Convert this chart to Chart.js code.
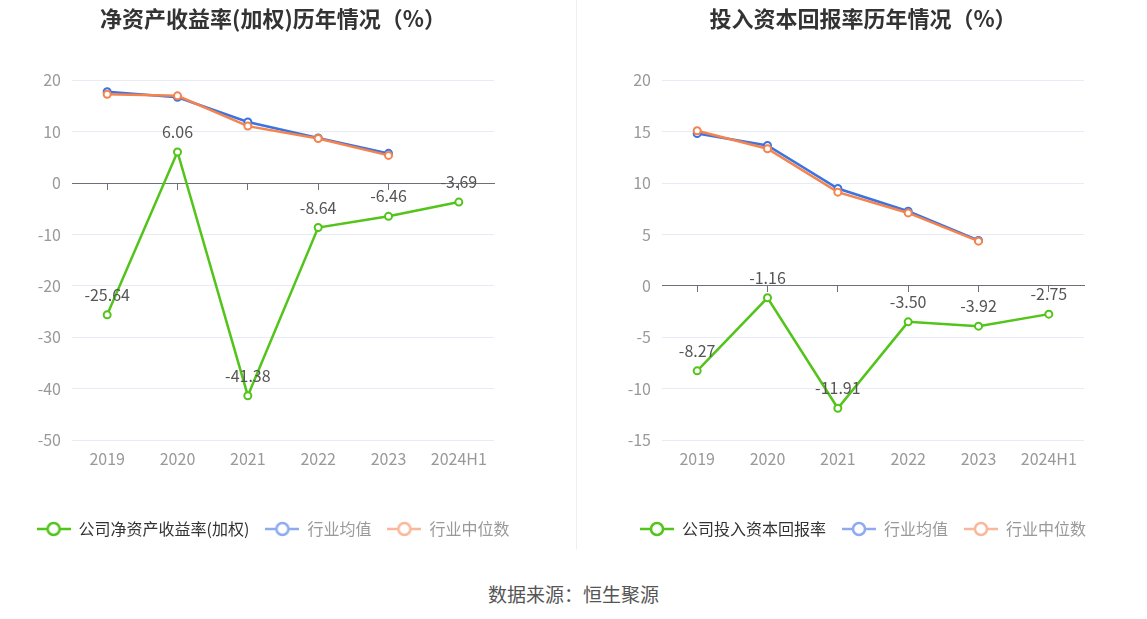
<!DOCTYPE html>
<html lang="zh">
<head>
<meta charset="UTF-8" />
<title>净资产收益率 / 投入资本回报率</title>
<script src="https://cdn.jsdelivr.net/npm/chart.js"></script>
<style>
  html, body { margin: 0; padding: 0; background: #fff; }
  body { width: 1147px; height: 619px; position: relative; overflow: hidden; font-family: "Noto Sans CJK SC", sans-serif; }
  .box { position: absolute; top: 0; width: 546px; height: 560px; }
  .divider { position: absolute; left: 576px; top: 0; width: 1px; height: 549px; background: #eeeeee; }
  .source { position: absolute; left: 0; width: 1147px; top: 580px; text-align: center; font-size: 19px; color: #555; }
</style>
</head>
<body>
<div class="box" style="left:0"><canvas id="roeChart"></canvas></div>
<div class="divider"></div>
<div class="box" style="left:590px"><canvas id="roicChart"></canvas></div>
<div class="source">数据来源：恒生聚源</div>

<script>
  // 数据
  const years = ['2019', '2020', '2021', '2022', '2023', '2024H1'];

  const roeCompany = [-25.64, 6.06, -41.38, -8.64, -6.46, -3.69];
  const roeMean    = [17.8, 16.7, 11.9, 8.8, 5.8, null];
  const roeMedian  = [17.3, 17.0, 11.1, 8.7, 5.4, null];

  const roicCompany = [-8.27, -1.16, -11.91, -3.50, -3.92, -2.75];
  const roicMean    = [14.83, 13.67, 9.48, 7.27, 4.42, null];
  const roicMedian  = [15.1, 13.35, 9.12, 7.1, 4.35, null];

  const FONT = '"Noto Sans CJK SC", "Noto Sans", sans-serif';
  const GREEN = '#52C41A', BLUE = '#3B73E3', ORANGE = '#F5834D';

  // 图例图标：线 + 空心圆
  function legendIcon(color) {
    const c = document.createElement('canvas');
    c.width = 34; c.height = 16;
    const g = c.getContext('2d');
    g.strokeStyle = color;
    g.lineWidth = 2.5;
    g.beginPath(); g.moveTo(0, 8); g.lineTo(34, 8); g.stroke();
    g.fillStyle = '#fff';
    g.beginPath(); g.arc(17, 8, 6, 0, Math.PI * 2); g.fill(); g.stroke();
    return c;
  }

  // 绿色折线数值标签
  const valueLabels = {
    id: 'valueLabels',
    afterDatasetsDraw(chart) {
      const meta = chart.getDatasetMeta(0);
      const data = chart.data.datasets[0].data;
      const ctx = chart.ctx;
      ctx.save();
      ctx.font = '16px ' + FONT;
      ctx.fillStyle = '#555';
      ctx.textAlign = 'center';
      ctx.textBaseline = 'middle';
      meta.data.forEach((pt, i) => {
        ctx.fillText(data[i].toFixed(2), pt.x, pt.y - 20);
      });
      ctx.restore();
    }
  };

  function makeChart(id, title, name, company, mean, median, yMin, yMax, step) {
    const ds = (label, data, color, order) => ({
      label, data, order,
      borderColor: color,
      backgroundColor: color,
      borderWidth: 2.5,
      pointRadius: 3.5,
      pointBorderWidth: 2,
      pointBackgroundColor: '#fff',
      pointBorderColor: color,
      tension: 0
    });
    const legendItems = [
      { text: name, icon: legendIcon(GREEN), fontColor: '#333' },
      { text: '行业均值', icon: legendIcon('#8EABF0'), fontColor: '#999' },
      { text: '行业中位数', icon: legendIcon('#F9B89B'), fontColor: '#999' }
    ];
    return new Chart(document.getElementById(id), {
      type: 'line',
      data: {
        labels: years,
        datasets: [
          ds(name, company, GREEN, 0),
          ds('行业均值', mean, BLUE, 2),
          ds('行业中位数', median, ORANGE, 1)
        ]
      },
      options: {
        responsive: true,
        maintainAspectRatio: false,
        animation: false,
        layout: { padding: { left: 0, right: 0, top: 0, bottom: 13 } },
        scales: {
          x: {
            type: 'category',
            offset: true,
            grid: { display: false, drawTicks: false },
            border: { display: false },
            ticks: { color: '#999', padding: 9, font: { family: FONT, size: 16 } },
            afterFit: s => { s.height = 65; }
          },
          x2: {
            type: 'category',
            labels: years,
            offset: true,
            position: { y: 0 },
            grid: { display: true, drawOnChartArea: false, drawTicks: true, tickLength: 6, color: '#6E7079', offset: false },
            border: { display: true, color: '#6E7079', width: 1 },
            ticks: { display: false }
          },
          y: {
            min: yMin, max: yMax,
            ticks: { stepSize: step, color: '#999', padding: 11, font: { family: FONT, size: 16 } },
            grid: {
              drawTicks: false,
              color: c => c.tick && c.tick.value === 0 ? 'rgba(0,0,0,0)' : '#E6EBF5'
            },
            border: { display: false },
            afterFit: s => { s.width = 72; }
          },
          // 右侧留白
          yPad: {
            position: 'right',
            grid: { display: false, drawTicks: false },
            border: { display: false },
            ticks: { display: false },
            afterFit: s => { s.width = 52; }
          }
        },
        plugins: {
          title: {
            display: true,
            text: title,
            color: '#333',
            font: { family: FONT, size: 22, weight: 'bold' },
            padding: { top: 5, bottom: 49 }
          },
          legend: {
            position: 'bottom',
            labels: {
              usePointStyle: true,
              pointStyleWidth: 34,
              padding: 16,
              font: { family: FONT, size: 16 },
              generateLabels: () => legendItems.map((it, i) => ({
                text: it.text,
                pointStyle: it.icon,
                fontColor: it.fontColor,
                strokeStyle: 'rgba(0,0,0,0)',
                fillStyle: 'rgba(0,0,0,0)',
                lineWidth: 0,
                datasetIndex: i,
                hidden: false
              }))
            }
          },
          tooltip: { enabled: false }
        }
      },
      plugins: [valueLabels]
    });
  }

  makeChart('roeChart', '净资产收益率(加权)历年情况（%）', '公司净资产收益率(加权)',
    roeCompany, roeMean, roeMedian, -50, 20, 10);
  makeChart('roicChart', '投入资本回报率历年情况（%）', '公司投入资本回报率',
    roicCompany, roicMean, roicMedian, -15, 20, 5);
</script>
</body>
</html>
